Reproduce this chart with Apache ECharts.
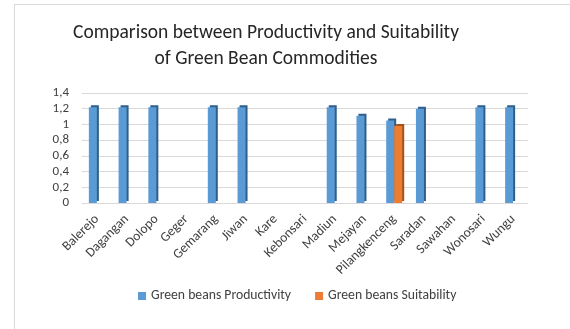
<!DOCTYPE html>
<html>
<head>
<meta charset="utf-8">
<script src="https://cdn.jsdelivr.net/npm/echarts@6/dist/echarts.min.js"></script>
<style>
  html, body { margin: 0; padding: 0; background: #fff; }
  #frame { position: absolute; left: 14px; top: 4px; width: 600px; height: 400px; border: 1px solid #d9d9d9; }
  #main { position: absolute; left: 0; top: 0; width: 570px; height: 329px; }
</style>
</head>
<body>
<div id="frame"></div>
<div id="main"></div>
<script>
const chart = echarts.init(document.getElementById('main'))

var districts = ['Balerejo', 'Dagangan', 'Dolopo', 'Geger', 'Gemarang', 'Jiwan', 'Kare', 'Kebonsari',
    'Madiun', 'Mejayan', 'Pilangkenceng', 'Saradan', 'Sawahan', 'Wonosari', 'Wungu']

// empty cells in the sheet -> null
var productivity = [1.22, 1.22, 1.22, null, 1.22, 1.22, null, null, 1.22, 1.11, 1.05, 1.2, null, 1.22, 1.22]
var suitability = [null, null, null, null, null, null, null, null, null, null, 0.98, null, null, null, null]

var yTicks = ['0', '0,2', '0,4', '0,6', '0,8', '1', '1,2', '1,4']

var font = 'Carlito, Lato, sans-serif'

chart.setOption({
    animation: false,
    title: {
        text: 'Comparison between Productivity and Suitability\nof Green Bean Commodities',
        left: 261,
        textAlign: 'center',
        top: 15,
        textStyle: {
            fontFamily: font,
            fontSize: 19.5,
            fontWeight: 'normal',
            color: '#262626',
            lineHeight: 26
        }
    },
    legend: {
        bottom: 21,
        left: 133,
        itemWidth: 8,
        itemHeight: 8,
        itemGap: 24,
        icon: 'rect',
        textStyle: { fontFamily: font, fontSize: 13.7, color: '#404040' },
        data: ['Green beans Productivity', 'Green beans Suitability']
    },
    grid: {
        left: 82,
        right: 42,
        top: 93,
        bottom: 126
    },
    xAxis: {
        type: 'category',
        data: districts,
        axisLine: { show: false },
        axisTick: { show: false },
        axisLabel: {
            rotate: 45,
            interval: 0,
            margin: 14,
            fontFamily: font,
            fontSize: 13.5,
            color: '#404040'
        }
    },
    yAxis: {
        type: 'value',
        min: 0,
        max: 1.4,
        interval: 0.2,
        axisLine: { show: false },
        axisTick: { show: false },
        splitLine: { lineStyle: { color: '#d9d9d9' } },
        axisLabel: {
            margin: 13,
            fontFamily: font,
            fontSize: 13,
            color: '#404040',
            formatter: function (v) { return yTicks[Math.round(v / 0.2)] }
        }
    },
    series: [
        {
            name: 'Green beans Productivity',
            type: 'bar',
            data: productivity,
            barWidth: 8,
            barGap: '0%',
            itemStyle: {
                color: '#5b9bd5',
                shadowColor: '#2e5f8c',
                shadowOffsetX: 2,
                shadowOffsetY: -2,
                shadowBlur: 0
            }
        },
        {
            name: 'Green beans Suitability',
            type: 'bar',
            data: suitability,
            barWidth: 8,
            itemStyle: {
                color: '#ed7d31',
                shadowColor: '#a3521b',
                shadowOffsetX: 2,
                shadowOffsetY: -2,
                shadowBlur: 0
            }
        }
    ]
})
</script>
</body>
</html>
